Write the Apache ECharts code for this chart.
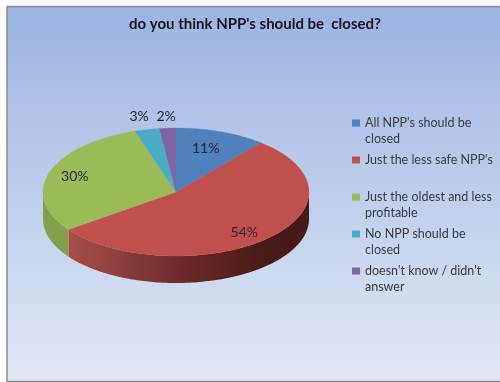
<!DOCTYPE html>
<html><head><meta charset="utf-8">
<style>html,body{margin:0;padding:0;background:#fff}#c{width:500px;height:382px}</style>
<script src="https://cdn.jsdelivr.net/npm/echarts@6/dist/echarts.min.js"></script>
</head><body><div id="c"></div>
<script>
const titleText = "do you think NPP's should be  closed?";
const categories = ["All NPP's should be closed", "Just the less safe NPP's", "Just the oldest and less profitable", "No NPP should be closed", "doesn't know / didn't answer"];
const legendLines = ["All NPP's should be\nclosed", "Just the less safe NPP's\n ", "Just the oldest and less\nprofitable", "No NPP should be\nclosed", "doesn't know / didn't\nanswer"];
const values = [11, 54, 30, 3, 2];
const colors = ['#4f81bd', '#c0504d', '#9bbb59', '#4bacc6', '#8064a2'];

const cx = 176, cy = 192, rx = 133, ry = 64, depth = 27;
const labelRadius = [0.66, 0.75, 0.80, 1.27, 1.19];
const labelShift = [-4, 5, 0, 4, 0];
const total = values.reduce((a, b) => a + b, 0);
const starts = values.map((_, i) => values.slice(0, i).reduce((a, b) => a + b, 0) / total * 360);
const pt = (deg, k = 1, dy = 0) => {
  const t = deg * Math.PI / 180;
  return [cx + rx * k * Math.sin(t), cy - ry * k * Math.cos(t) + dy];
};
const arc = (a, b, dy = 0) => {
  const out = [], n = Math.max(2, Math.ceil(Math.abs(b - a)));
  for (let i = 0; i <= n; i++) out.push(pt(a + (b - a) * i / n, 1, dy));
  return out;
};
const wallFill = {
  1: { type: 'linear', x: 0, y: 0, x2: 1, y2: 0, colorStops: [
    { offset: 0, color: '#a84f4c' }, { offset: 0.45, color: '#6f2c2a' }, { offset: 0.8, color: '#4a1b19' }, { offset: 1, color: '#451a18' }] },
  2: '#84a04c'
};
const makeSeries = i => ({
  type: 'custom',
  name: categories[i],
  coordinateSystem: 'none',
  data: [values[i]],
  itemStyle: { color: colors[i] },
  silent: true,
  z: 2,
  renderItem: (params, api) => {
    const a = starts[i], b = a + api.value(0) / total * 360;
    const kids = [];
    const wa = Math.max(a, 90), wb = Math.min(b, 270);
    if (wb > wa) {
      kids.push({ type: 'polygon', shape: { points: arc(wa, wb).concat(arc(wb, wa, depth)) },
        style: { fill: wallFill[i] || colors[i], stroke: null } });
    }
    kids.push({ type: 'polygon', shape: { points: [[cx, cy]].concat(arc(a, b)) },
      style: { fill: colors[i], stroke: colors[i], lineWidth: 0.3 } });
    const p = pt((a + b) / 2, labelRadius[i], labelShift[i]);
    kids.push({ type: 'text', z2: 10, style: { x: p[0], y: p[1], text: api.value(0) + '%', fill: '#26262e',
      font: '14px Lato', align: 'center', verticalAlign: 'middle' } });
    return { type: 'group', children: kids };
  }
});

const chart = echarts.init(document.getElementById('c'), null, { renderer: 'canvas' });
chart.setOption({
  animation: false,
  backgroundColor: '#fff',
  graphic: [{ type: 'rect', silent: true, z: -10, shape: { x: 7, y: 6.5, width: 496, height: 375 },
    style: { stroke: '#8a8a8a', lineWidth: 1.5,
      fill: { type: 'linear', x: 0, y: 0, x2: 0, y2: 1, colorStops: [
        { offset: 0, color: '#9cb4e2' }, { offset: 1, color: '#e1e8f5' }] } } }],
  title: { text: titleText, left: 250, top: 12, textAlign: 'center',
    textStyle: { fontFamily: 'Lato', fontWeight: 'bold', fontSize: 15, color: '#15151c' } },
  legend: {
    orient: 'vertical', left: 347, top: 94, itemWidth: 8, itemHeight: 7, itemGap: -11, icon: 'rect',
    selectedMode: false,
    data: categories,
    formatter: n => '\n' + legendLines[categories.indexOf(n)],
    textStyle: { fontFamily: 'Lato', fontSize: 12.5, lineHeight: 16, color: '#3a3a44' }
  },
  series: values.map((_, i) => makeSeries(i))
});
</script></body></html>
